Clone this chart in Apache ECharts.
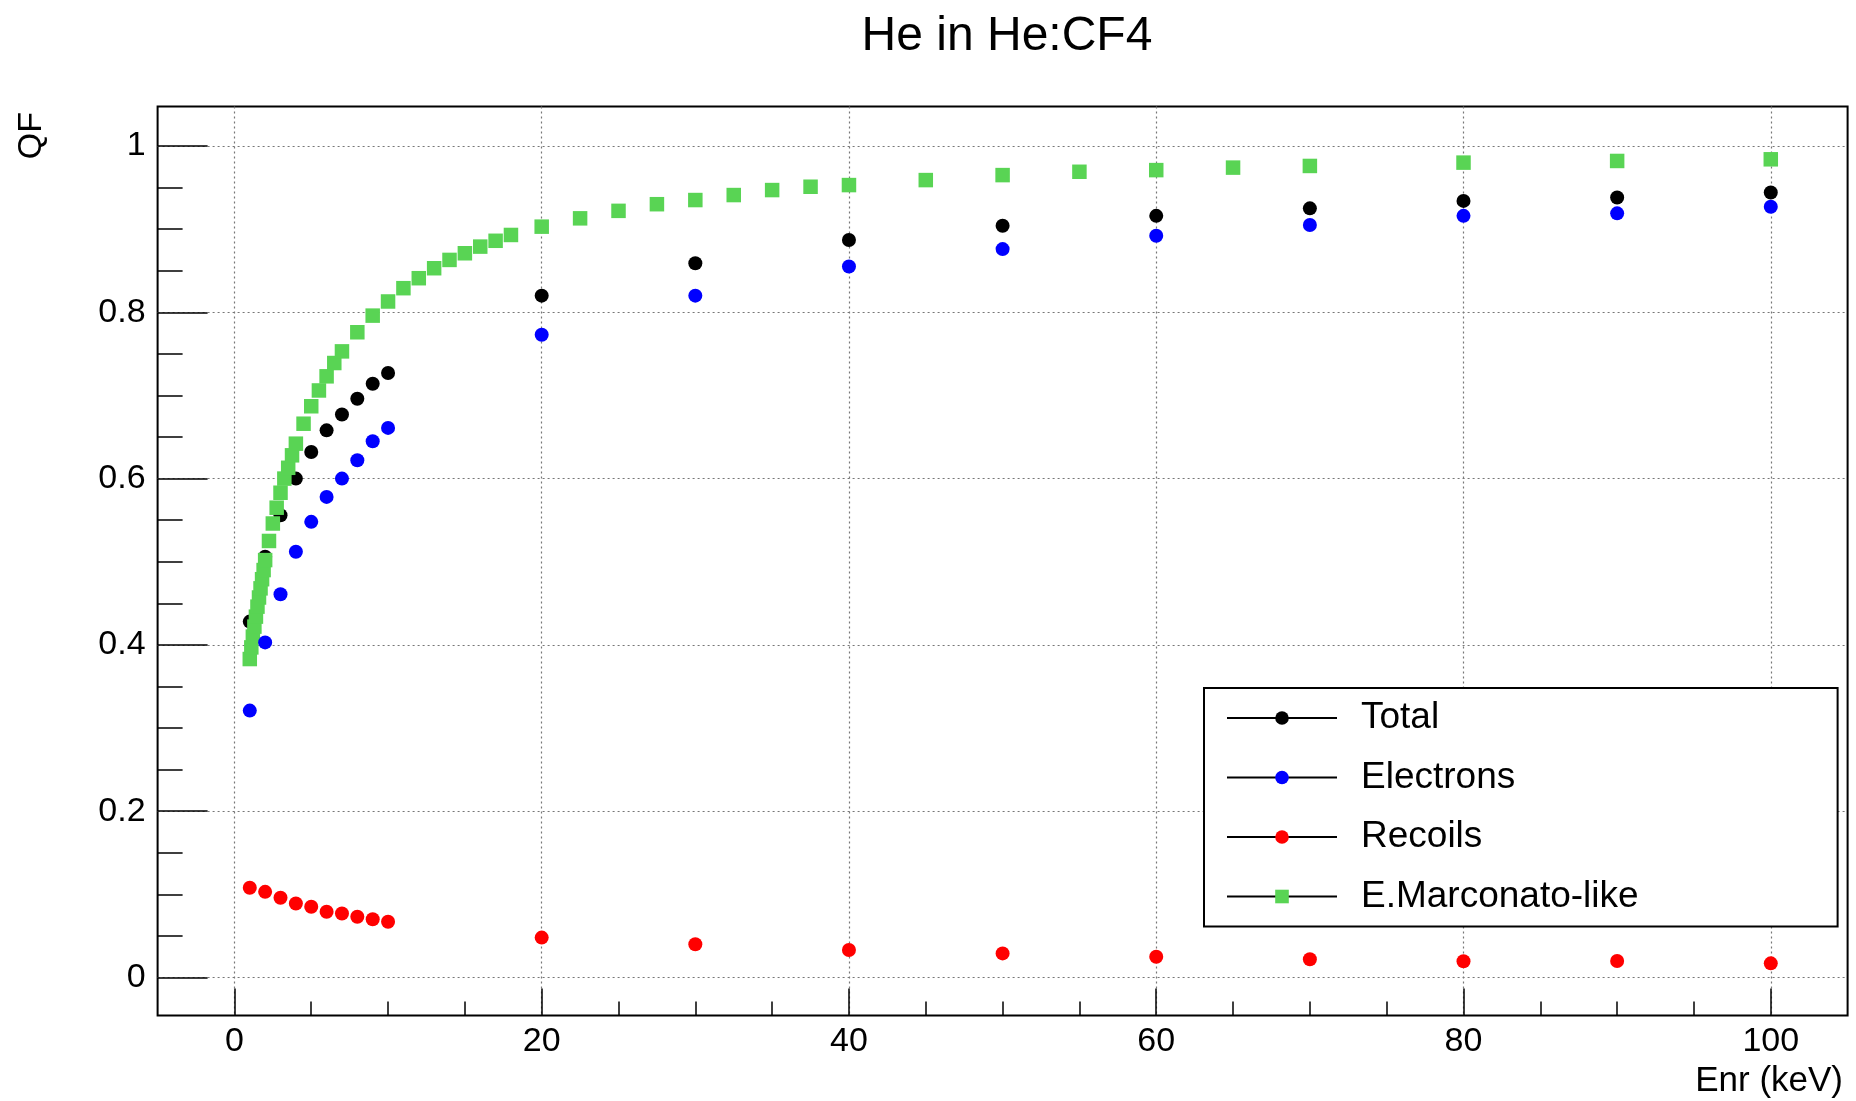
<!DOCTYPE html>
<html lang="en">
<head>
  <meta charset="UTF-8">
  <title>He in He:CF4</title>
  <script src="https://cdn.jsdelivr.net/npm/echarts@6/dist/echarts.min.js"></script>
  <style>
    html, body { margin: 0; padding: 0; background: #fff; }
    #chart { width: 1856px; height: 1101px; }
  </style>
</head>
<body>
<div id="chart"></div>
<script type="text/javascript">
  // energies (keV) shared by Total / Electrons / Recoils
  var enr = [1, 2, 3, 4, 5, 6, 7, 8, 9, 10, 20, 30, 40, 50, 60, 70, 80, 90, 100];
  var totalQF = [0.428, 0.506, 0.556, 0.600, 0.632, 0.658, 0.677, 0.696, 0.714, 0.727,
                 0.820, 0.859, 0.887, 0.904, 0.916, 0.925, 0.934, 0.938, 0.944];
  var electronQF = [0.321, 0.403, 0.461, 0.512, 0.548, 0.578, 0.600, 0.622, 0.645, 0.661,
                    0.773, 0.820, 0.855, 0.876, 0.892, 0.905, 0.916, 0.919, 0.927];
  var recoilQF = [0.108, 0.103, 0.096, 0.089, 0.085, 0.079, 0.077, 0.073, 0.070, 0.067,
                  0.048, 0.040, 0.033, 0.029, 0.025, 0.022, 0.0195, 0.0198, 0.017];

  // E.Marconato-like curve has its own energy points
  var marcEnr = [1.0, 1.1, 1.2, 1.3, 1.4, 1.5, 1.6, 1.7, 1.8, 1.9,
                 2, 2.25, 2.5, 2.75, 3, 3.25, 3.5, 3.75, 4, 4.5, 5, 5.5, 6, 6.5, 7,
                 8, 9, 10, 11, 12, 13, 14, 15, 16, 17, 18, 20,
                 22.5, 25, 27.5, 30, 32.5, 35, 37.5, 40, 45, 50, 55, 60, 65, 70, 80, 90, 100];
  var marcQF = [0.383, 0.397, 0.410, 0.422, 0.434, 0.446, 0.457, 0.468, 0.479, 0.490,
                0.502, 0.525, 0.546, 0.565, 0.583, 0.600, 0.613, 0.628, 0.642, 0.666, 0.687, 0.706, 0.723, 0.739, 0.753,
                0.776, 0.796, 0.813, 0.829, 0.841, 0.853, 0.863, 0.871, 0.879, 0.886, 0.893, 0.903,
                0.913, 0.922, 0.930, 0.935, 0.941, 0.947, 0.951, 0.953, 0.959, 0.965, 0.969, 0.971, 0.974, 0.976, 0.980, 0.982, 0.984];

  var seriesNames = ['Total', 'Electrons', 'Recoils', 'E.Marconato-like'];
  var xTicks = [0, 20, 40, 60, 80, 100];
  var yTicks = [0, 0.2, 0.4, 0.6, 0.8, 1];

  function pairs(xs, ys) {
    return xs.map(function (x, i) { return [x, ys[i]]; });
  }

  var FONT = 'Liberation Sans, Arial, Helvetica, sans-serif';
  var xStep = xTicks[1] - xTicks[0];
  var yStep = yTicks[1] - yTicks[0];

  var myChart = echarts.init(document.getElementById('chart'), null, { renderer: 'canvas' });

  function pointSeries(name, data, color, symbol, size, z) {
    return {
      name: name,
      type: 'line',
      xAxisIndex: 0,
      yAxisIndex: 0,
      data: data,
      symbol: symbol,
      symbolSize: size,
      showSymbol: true,
      showAllSymbol: true,
      itemStyle: { color: color },
      lineStyle: { opacity: 0 },
      emphasis: { disabled: true },
      z: z
    };
  }

  myChart.setOption({
    animation: false,
    backgroundColor: '#fff',
    title: {
      text: 'He in He:CF4',
      left: 1002,
      top: 8,
      textAlign: 'center',
      textStyle: { fontSize: 48, fontWeight: 'normal', fontFamily: FONT, color: '#000' }
    },
    grid: [
      // frame holding the points
      { left: 157.6, right: 8.4, top: 106.5, bottom: 85.5, show: true,
        borderColor: '#000', borderWidth: 2, backgroundColor: 'transparent' },
      // x ticks / vertical grid lines
      { left: 234.4, right: 85.2, top: 106.5, bottom: 85.5 },
      // y ticks / horizontal grid lines
      { left: 157.6, right: 8.4, top: 146, bottom: 123.5 }
    ],
    xAxis: [
      { gridIndex: 0, type: 'value', min: -5, max: 105, show: false },
      { gridIndex: 1, type: 'value', min: xTicks[0], max: xTicks[xTicks.length - 1], interval: xStep,
        axisLine: { show: false },
        axisTick: { inside: true, length: 27, lineStyle: { color: '#000', width: 1.5 } },
        minorTick: { show: true, splitNumber: 4, length: 14, lineStyle: { color: '#000', width: 1.5 } },
        axisLabel: { margin: 9, fontSize: 34, color: '#000', fontFamily: FONT },
        splitLine: { show: true, lineStyle: { type: [2, 3], color: '#777', width: 1.2 } } },
      { gridIndex: 2, type: 'value', min: 0, max: 1, show: false }
    ],
    yAxis: [
      { gridIndex: 0, type: 'value', min: -0.0457, max: 1.0475, show: false },
      { gridIndex: 1, type: 'value', min: 0, max: 1, show: false },
      { gridIndex: 2, type: 'value', min: yTicks[0], max: yTicks[yTicks.length - 1], interval: yStep,
        axisLine: { show: false },
        axisTick: { inside: true, length: 50, lineStyle: { color: '#000', width: 1.5 } },
        minorTick: { show: true, splitNumber: 4, length: 25, lineStyle: { color: '#000', width: 1.5 } },
        axisLabel: { margin: 12, fontSize: 34, color: '#000', fontFamily: FONT },
        splitLine: { show: true, lineStyle: { type: [2, 3], color: '#777', width: 1.2 } } }
    ],
    legend: {
      data: seriesNames,
      orient: 'vertical',
      left: 1204,
      top: 688,
      padding: [10, 199, 10, 22],
      itemWidth: 110,
      itemHeight: 17,
      itemGap: 19.5,
      selectedMode: false,
      backgroundColor: '#fff',
      borderColor: '#000',
      borderWidth: 2,
      borderRadius: 0,
      lineStyle: { color: '#000', width: 2, opacity: 1 },
      textStyle: { fontSize: 37, fontFamily: FONT, color: '#000', lineHeight: 40, padding: [0, 0, 0, 19] }
    },
    graphic: [
      { type: 'text', x: 32, y: 112, rotation: Math.PI / 2,
        style: { text: 'QF', fontSize: 34, fontFamily: FONT, fill: '#000', align: 'right', verticalAlign: 'middle' } },
      { type: 'text', x: 1843, y: 1081,
        style: { text: 'Enr (keV)', fontSize: 35, fontFamily: FONT, fill: '#000', align: 'right', verticalAlign: 'middle' } }
    ],
    series: [
      pointSeries(seriesNames[0], pairs(enr, totalQF), '#000000', 'circle', 14, 3),
      pointSeries(seriesNames[1], pairs(enr, electronQF), '#0000ff', 'circle', 14, 5),
      pointSeries(seriesNames[2], pairs(enr, recoilQF), '#ff0000', 'circle', 14, 5),
      pointSeries(seriesNames[3], pairs(marcEnr, marcQF), '#59d454', 'rect', 14.5, 4)
    ]
  });
</script>
</body>
</html>
